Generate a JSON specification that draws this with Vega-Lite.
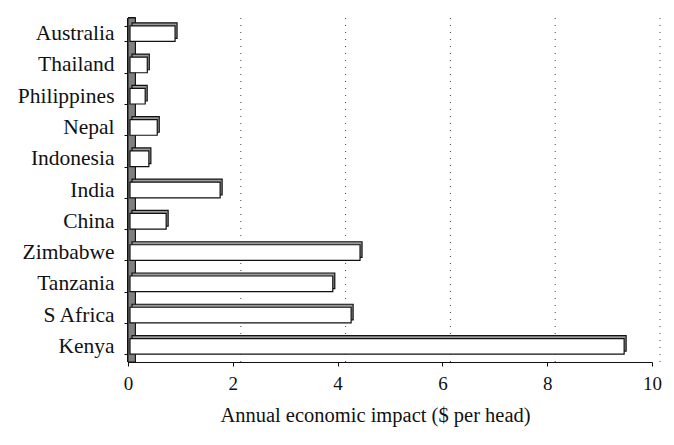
{
  "$schema": "https://vega.github.io/schema/vega-lite/v6.json",
  "autosize": {"type": "none"},
  "width": 524,
  "height": 344,
  "padding": {"left": 128, "top": 18, "right": 22, "bottom": 83},
  "background": "white",
  "config": {
    "view": {"stroke": null},
    "font": "Liberation Serif",
    "axis": {"labelFont": "Liberation Serif", "titleFont": "Liberation Serif", "labelColor": "#111", "titleColor": "#111", "domainColor": "#111", "tickColor": "#111", "titleFontSize": 20.5, "titleFontWeight": "normal", "grid": false, "tickSize": 4, "domainWidth": 1.2, "labelOverlap": false},
    "axisX": {"labelFontSize": 19, "labelPadding": 8, "titlePadding": 12, "labelFlush": false, "titleX": 247},
    "axisY": {"labelFontSize": 21.5, "labelPadding": 10, "tickBand": "extent"}
  },
  "datasets": {
    "bars": [
      {"country": "Australia", "impact": 0.86},
      {"country": "Thailand", "impact": 0.33},
      {"country": "Philippines", "impact": 0.29},
      {"country": "Nepal", "impact": 0.52},
      {"country": "Indonesia", "impact": 0.36},
      {"country": "India", "impact": 1.72},
      {"country": "China", "impact": 0.69},
      {"country": "Zimbabwe", "impact": 4.39},
      {"country": "Tanzania", "impact": 3.87},
      {"country": "S Africa", "impact": 4.22},
      {"country": "Kenya", "impact": 9.43}
    ],
    "grid": [{"v": 2}, {"v": 4}, {"v": 6}, {"v": 8}, {"v": 10}]
  },
  "encoding": {
    "x": {"type": "quantitative", "scale": {"domain": [0, 10]},
      "axis": {"title": "Annual economic impact ($ per head)", "values": [0, 2, 4, 6, 8, 10]}}
  },
  "layer": [
    {
      "data": {"name": "grid"},
      "mark": {"type": "rule", "strokeDash": [1, 6], "color": "#444", "strokeWidth": 1, "xOffset": 8},
      "encoding": {"x": {"field": "v", "type": "quantitative"}}
    },
    {
      "data": {"name": "bars"},
      "mark": {"type": "rect", "fill": "#808080", "stroke": "#111", "strokeWidth": 1},
      "encoding": {"x": {"datum": 0}, "x2": {"datum": 0.14}}
    },
    {
      "data": {"name": "bars"},
      "mark": {"type": "bar", "fill": "#9a9a9a", "stroke": "#111", "strokeWidth": 1.2, "xOffset": 4, "yOffset": -3},
      "encoding": {
        "y": {"field": "country", "type": "nominal", "sort": null, "scale": {"paddingInner": 0.5, "paddingOuter": 0.25}, "axis": {"title": null}},
        "x": {"field": "impact", "type": "quantitative"}
      }
    },
    {
      "data": {"name": "bars"},
      "mark": {"type": "bar", "fill": "white", "stroke": "#111", "strokeWidth": 1.2, "xOffset": 2},
      "encoding": {
        "y": {"field": "country", "type": "nominal", "sort": null, "axis": {"title": null}},
        "x": {"field": "impact", "type": "quantitative"}
      }
    }
  ]
}
